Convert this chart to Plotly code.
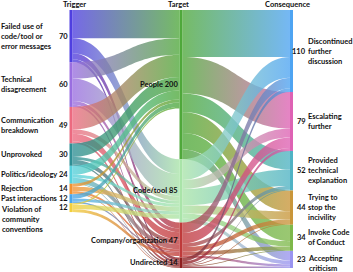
import numpy as np
import plotly.graph_objects as go

# ---------------- data ----------------
trigger_labels = ["Failed use of<br>code/tool or<br>error messages", "Technical<br>disagreement",
                  "Communication<br>breakdown", "Unprovoked", "Politics/ideology", "Rejection",
                  "Past interactions", "Violation of<br>community<br>conventions"]
trigger_counts = [70, 60, 49, 30, 24, 14, 12, 12]

target_labels = ["People", "Code/tool", "Company/organization", "Undirected"]
target_counts = [200, 85, 47, 14]

consequence_labels = ["Discontinued<br>further<br>discussion", "Escalating<br>further",
                      "Provided<br>technical<br>explanation", "Trying to<br>stop the<br>incivility",
                      "Invoke Code<br>of Conduct", "Accepting<br>criticism"]
consequence_counts = [110, 79, 52, 44, 34, 23]

column_titles = ["Trigger", "Target", "Consequence"]

# estimated flows (rows: trigger, cols: target)
trigger_to_target = [
    [38, 20, 8, 4],
    [22, 30, 5, 3],
    [30, 6, 10, 3],
    [18, 4, 6, 2],
    [12, 4, 7, 1],
    [4, 6, 3, 1],
    [6, 4, 2, 0],
    [2, 6, 4, 0],
]
# estimated flows (rows: target, cols: consequence)
target_to_consequence = [
    [63, 49, 25, 28, 22, 13],
    [28, 12, 22, 11, 7, 5],
    [14, 14, 5, 6, 5, 3],
    [5, 4, 1, 1, 1, 2],
]

# ---------------- style / layout ----------------
trigger_colors = ["#4f3fe0", "#9a6ee0", "#ec6a80", "#2f8f95", "#56d0dc", "#f39232", "#4aa6ec", "#f2cf3c"]
target_colors = ["#4fa83a", "#a9e4a8", "#bf3a3a", "#8e1f1f"]
consequence_colors = ["#4ea4f2", "#de62b4", "#4fb3c4", "#c9963a", "#7eb84a", "#9a94f0"]

W, H = 353, 272
TOP, BOTTOM = 10, 268
COL_X = [71, 181, 291.5]          # node centres (px)
THICK = 3
LINK_ALPHA = 0.78
FONT = "Lato"
FS = 7.5
TXT = "#111"


def rgba(h, a):
    h = h.lstrip("#")
    r, g, b = (int(h[i:i + 2], 16) for i in (0, 2, 4))
    return "rgba(%d,%d,%d,%.2f)" % (r, g, b, a)


# ---------------- sankey layout (computed from the data) ----------------
counts = [trigger_counts, target_counts, consequence_counts]
colors = [trigger_colors, target_colors, consequence_colors]
flows = [trigger_to_target, target_to_consequence]

# node value = max(inflow, outflow)
node_val = []
for c in range(3):
    vals = []
    for i in range(len(counts[c])):
        out_v = sum(flows[c][i]) if c < 2 else 0
        in_v = sum(row[i] for row in flows[c - 1]) if c > 0 else 0
        vals.append(max(out_v, in_v))
    node_val.append(vals)

total = max(sum(v) for v in node_val)
k = (BOTTOM - TOP) / total

node_y0 = []
for c in range(3):
    ys, cum = [], TOP
    for v in node_val[c]:
        ys.append(cum)
        cum += v * k
    node_y0.append(ys)

fig = go.Figure()


def curve(x0, y0, x1, y1, n=40):
    t = np.linspace(0, 1, n)
    xm = (x0 + x1) / 2
    x = (1 - t) ** 3 * x0 + 3 * (1 - t) ** 2 * t * xm + 3 * (1 - t) * t ** 2 * xm + t ** 3 * x1
    y = (1 - t) ** 3 * y0 + 3 * (1 - t) ** 2 * t * y0 + 3 * (1 - t) * t ** 2 * y1 + t ** 3 * y1
    return x, y


for c in range(2):
    M = flows[c]
    ns, nt = len(M), len(M[0])
    out_off = {}
    for i in range(ns):
        y = node_y0[c][i]
        for j in sorted(range(nt), key=lambda j: node_y0[c + 1][j]):
            if M[i][j] > 0:
                out_off[(i, j)] = y
                y += M[i][j] * k
    in_off = {}
    for j in range(nt):
        y = node_y0[c + 1][j]
        for i in sorted(range(ns), key=lambda i: node_y0[c][i]):
            if M[i][j] > 0:
                in_off[(i, j)] = y
                y += M[i][j] * k
    xa = COL_X[c] + THICK / 2
    xb = COL_X[c + 1] - THICK / 2
    for i in range(ns):
        for j in range(nt):
            v = M[i][j]
            if v <= 0:
                continue
            h = v * k
            ya, yb = out_off[(i, j)], in_off[(i, j)]
            tx, ty = curve(xa, ya, xb, yb)
            bx, by = curve(xa, ya + h, xb, yb + h)
            xs = np.concatenate([tx, bx[::-1], tx[:1]])
            ys = np.concatenate([ty, by[::-1], ty[:1]])
            fig.add_trace(go.Scatter(
                x=xs, y=ys, mode="none", fill="toself",
                fillgradient=dict(type="horizontal",
                                  colorscale=[[0, rgba(colors[c][i], LINK_ALPHA)],
                                              [1, rgba(colors[c + 1][j], LINK_ALPHA)]]),
                hoverinfo="skip", showlegend=False))

# nodes
for c in range(3):
    for i, v in enumerate(node_val[c]):
        y0 = node_y0[c][i]
        y1 = y0 + v * k
        x0, x1 = COL_X[c] - THICK / 2, COL_X[c] + THICK / 2
        fig.add_trace(go.Scatter(
            x=[x0, x1, x1, x0, x0], y=[y0, y0, y1, y1, y0], mode="none", fill="toself",
            fillcolor=colors[c][i], hoverinfo="skip", showlegend=False))

# labels
font = dict(family=FONT, size=FS, color=TXT)
ann = []
for i, v in enumerate(node_val[0]):
    yc = node_y0[0][i] + v * k / 2
    last = i == len(node_val[0]) - 1
    ann.append(dict(x=COL_X[0] - THICK / 2, y=yc, xref="x", xanchor="right", yanchor="middle",
                    text="<b>%d</b>" % trigger_counts[i]))
    ann.append(dict(x=0, xref="paper", xshift=-1, y=yc - 5 if last else yc, xanchor="left",
                    yanchor="top" if last else "middle", align="left",
                    text="<b>%s</b>" % trigger_labels[i]))
for i, v in enumerate(node_val[1]):
    yc = node_y0[1][i] + v * k / 2
    ann.append(dict(x=COL_X[1] - THICK / 2, xref="x", y=yc, xanchor="right", yanchor="middle",
                    text="<b>%s %d</b>" % (target_labels[i], target_counts[i])))
for i, v in enumerate(node_val[2]):
    yc = node_y0[2][i] + v * k / 2
    last = i == len(node_val[2]) - 1
    ann.append(dict(x=COL_X[2] + 16.5, xref="x", y=yc, xanchor="right", yanchor="middle",
                    text="<b>%d</b>" % consequence_counts[i]))
    ann.append(dict(x=COL_X[2] + 14.5, xref="x", y=yc - 7 if last else yc, xanchor="left",
                    yanchor="top" if last else "middle", align="left",
                    text="<b>%s</b>" % consequence_labels[i]))
for title, x in zip(column_titles, [COL_X[0] + 3, COL_X[1] - 3, COL_X[2] - 4]):
    ann.append(dict(x=x, xref="x", y=4, xanchor="center", yanchor="middle",
                    text="<b>%s</b>" % title))
for a in ann:
    a.update(yref="y", showarrow=False, font=font)

fig.update_layout(
    width=W, height=H, margin=dict(l=0, r=0, t=0, b=0),
    paper_bgcolor="white", plot_bgcolor="white", showlegend=False,
    font=dict(family=FONT, size=FS),
    xaxis=dict(range=[0, W], visible=False, fixedrange=True),
    yaxis=dict(range=[H, 0], visible=False, fixedrange=True),
    annotations=ann)
fig.write_html("out.html", post_script="document.body.style.margin='0';",
               config={"displayModeBar": False})
